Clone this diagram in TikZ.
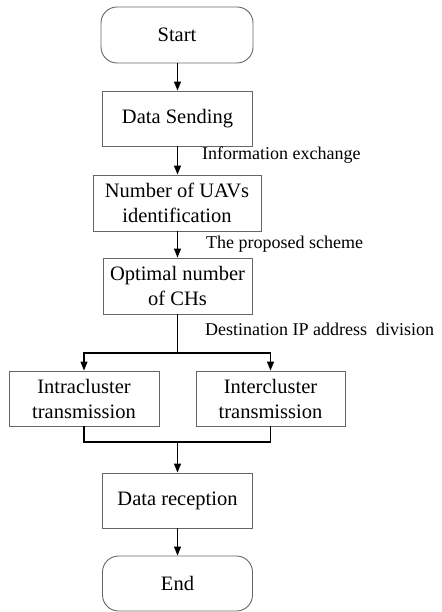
\documentclass[tikz,border=0pt]{standalone}
\usepackage{fontspec}
\setmainfont{Liberation Serif}
\usetikzlibrary{arrows.meta}
\begin{document}
\begin{tikzpicture}[x=1pt,y=-1pt,
  box/.style={draw=black!60, line width=0.9pt, align=center, inner sep=0pt,
    font=\fontsize{20.5}{25}\selectfont},
  term/.style={box, rounded corners=16pt},
  lbl/.style={anchor=base west, inner sep=0pt, font=\fontsize{18}{21}\selectfont},
  arr/.style={line width=1.1pt, -{Triangle[length=9pt,width=7pt]}},
  ln/.style={line width=1.1pt}]
\useasboundingbox (0,0) rectangle (441,612);
\node[term, minimum width=152, minimum height=56] (start) at (177,35) {Start};
\node[box, minimum width=150, minimum height=55] (send) at (177.5,118.5) {Data Sending};
\node[box, minimum width=168, minimum height=56] (num) at (177,203) {Number of UAVs\\identification};
\node[box, minimum width=149, minimum height=56] (opt) at (177.5,286) {Optimal number\\of CHs};
\node[box, minimum width=150, minimum height=55] (intra) at (84,398.5) {Intracluster\\transmission};
\node[box, minimum width=149, minimum height=55] (inter) at (270.5,398.5) {Intercluster\\transmission};
\node[box, minimum width=150, minimum height=55] (recv) at (177.5,500.5) {Data reception};
\node[term, minimum width=150, minimum height=55] (end) at (177.5,583.5) {End};

\node[lbl] (l1) at (202,160) {Information exchange};
\node[lbl] (l2) at (206,248) {The proposed scheme};
\node[lbl] (l3) at (205,335) {Destination IP address\ \ division};

\coordinate (split) at (177.5,353);
\coordinate (join) at (177.5,442);

\draw[arr] (start.south -| 177.5,0) -- (send.north -| 177.5,0);
\draw[arr] (send.south -| 177.5,0) -- (num.north -| 177.5,0);
\draw[arr] (num.south -| 177.5,0) -- (opt.north -| 177.5,0);
\draw[ln] (opt.south -| 177.5,0) -- (split);
\draw[arr] (split) -| (intra.north);
\draw[arr] (split) -| (inter.north);
\draw[ln] (intra.south) |- (join);
\draw[ln] (inter.south) |- (join);
\draw[arr] (join) -- (recv.north -| 177.5,0);
\draw[arr] (recv.south -| 177.5,0) -- (end.north -| 177.5,0);
\end{tikzpicture}
\end{document}
